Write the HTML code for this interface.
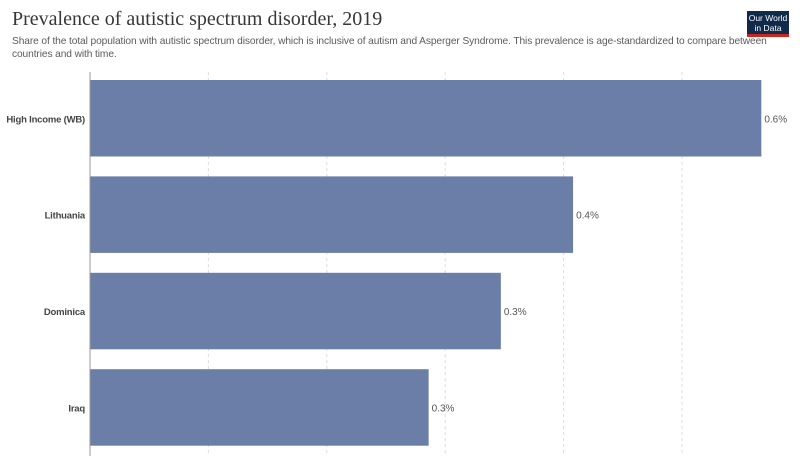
<!DOCTYPE html>
<html><head><meta charset="utf-8"><style>
body{margin:0;background:#fff;width:800px;height:466px;overflow:hidden;font-family:"Liberation Sans",sans-serif}
.title{position:absolute;left:12px;top:8px;font-family:"Liberation Serif",serif;font-size:20px;color:#373737}
.sub{position:absolute;left:12px;top:35px;width:760px;font-size:10.2px;line-height:13px;color:#5b5b5b;letter-spacing:-0.1px}
.logo{position:absolute;left:747px;top:11px;width:42px;height:26px;background:#0f2a4a;color:#fff;font-size:8.5px;line-height:10px;text-align:center;padding-top:2px;box-sizing:border-box;border-bottom:3px solid #ce261e}
</style></head><body>
<div class="title">Prevalence of autistic spectrum disorder, 2019</div>
<div class="sub">Share of the total population with autistic spectrum disorder, which is inclusive of autism and Asperger Syndrome. This prevalence is age-standardized to compare between<br>countries and with time.</div>
<div class="logo">Our World<br>in Data</div>
<svg id="chart" width="800" height="466" style="position:absolute;left:0;top:0"></svg>
<script>
const categories=["High Income (WB)","Lithuania","Dominica","Iraq"];
const values=[0.567,0.408,0.347,0.286];
const valueLabels=["0.6%","0.4%","0.3%","0.3%"];
const gridTicks=[0.1,0.2,0.3,0.4,0.5];
const svg=document.getElementById('chart');
const NS='http://www.w3.org/2000/svg';
const x0=90,pxPer=1184;
const x=v=>x0+v*pxPer;
const bandTop=80,bandStep=96.4,barH=76.5;
function mk(t,a){const e=document.createElementNS(NS,t);for(const k in a)e.setAttribute(k,a[k]);svg.appendChild(e);return e;}
gridTicks.forEach(t=>{const g=mk('line',{x1:x(t),x2:x(t),y1:72,y2:456,stroke:'#ddd','stroke-dasharray':'3,3'});

});
categories.forEach((c,i)=>{
const y=bandTop+i*bandStep;
const r=mk('rect',{x:x0,y:y,width:x(values[i])-x0,height:barH,fill:'#6a7ea8'});


const l=mk('text',{x:85,y:y+barH/2+4,'text-anchor':'end','font-size':'9.5','font-weight':'bold',fill:'#444','letter-spacing':'-0.2'});
l.textContent=c;


const v=mk('text',{x:x(values[i])+3,y:y+barH/2+4,'font-size':'10',fill:'#555'});
v.textContent=valueLabels[i];


});
const ax=mk('line',{x1:x0,x2:x0,y1:72,y2:456,stroke:'#999','stroke-width':1});


</script>
</body></html>
